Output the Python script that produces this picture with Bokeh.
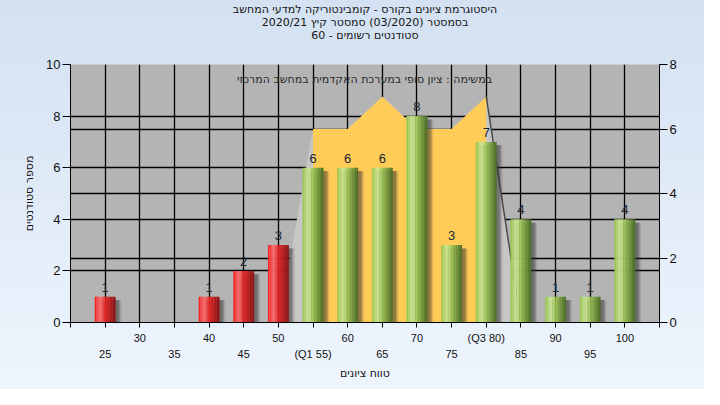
from bokeh.plotting import figure
from bokeh.models import Range1d, LinearAxis, FixedTicker, Grid, Label
from bokeh.core.properties import value
from bokeh.embed import file_html
from bokeh.resources import INLINE

# ---------------- data ----------------
grades = [25, 30, 35, 40, 45, 50, 55, 60, 65, 70, 75, 80, 85, 90, 95, 100]
counts = [1, 0, 0, 1, 2, 3, 6, 6, 6, 8, 3, 7, 4, 1, 1, 4]
tick_labels = ["25", "30", "35", "40", "45", "50", "(Q1 55)", "60", "65", "70",
               "75", "(Q3 80)", "85", "90", "95", "100"]
area_grades = [50, 55, 60, 65, 70, 75, 80, 85]
area_values = [0, 6, 6, 7, 6, 6, 7, 0]
q1_grade = 55
q3_grade = 80
pass_grade = 55
left_ticks = [0, 2, 4, 6, 8, 10]
right_ticks = [0, 2, 4, 6, 8]
title_lines = [
    "היסטוגרמת ציונים בקורס - קומבינטוריקה למדעי המחשב",
    "בסמסטר (03/2020) סמסטר קיץ 2020/21",
    "סטודנטים רשומים - 60",
]
note_text = "במשימה : ציון סופי במערכת האקדמית במחשב המרכזי"
y_title = "מספר סטודנטים"
x_title = "טווח ציונים"

FONT = "Liberation Sans"
HFONT = "DejaVu Sans"

# --------------- helpers ---------------
def hex2rgb(h):
    h = h.lstrip("#")
    return tuple(int(h[i:i + 2], 16) for i in (0, 2, 4))

def profile(stops, t):
    for (t0, c0), (t1, c1) in zip(stops[:-1], stops[1:]):
        if t0 <= t <= t1:
            a = (t - t0) / (t1 - t0) if t1 > t0 else 0
            r0, g0, b0 = hex2rgb(c0)
            r1, g1, b1 = hex2rgb(c1)
            return "#%02x%02x%02x" % (round(r0 + (r1 - r0) * a),
                                      round(g0 + (g1 - g0) * a),
                                      round(b0 + (b1 - b0) * a))
    return stops[-1][1]

green_stops = [(0.0, "#93c24a"), (0.28, "#cfe99c"), (0.5, "#9fc65a"), (1.0, "#4a6b24")]
red_stops = [(0.0, "#f01c1c"), (0.28, "#ff7272"), (0.5, "#e82626"), (1.0, "#8a1414")]

idx = list(range(len(grades)))
gi = {g: i for i, g in enumerate(grades)}

# --------------- figure ----------------
p = figure(width=704, height=389, x_range=Range1d(-1, 16), y_range=Range1d(0, 10),
           x_axis_type=None, output_backend="svg", toolbar_location=None,
           min_border_left=70, min_border_right=45, min_border_top=64, min_border_bottom=67)
p.extra_y_ranges = {"right": Range1d(0, 8)}
p.background_fill_color = "#b4b4b4"
p.border_fill_color = None
p.outline_line_color = None
p.styles = {"background-image": "linear-gradient(to bottom, #d3e1f2 0%, #eef5fd 100%)"}
p.title.text = ""
p.title.standoff = 0

# title lines as labels in the top panel (each stacks outward from the frame)
for line in reversed(title_lines):
    p.add_layout(Label(x=294.5, y=29, x_units="screen", y_units="screen",
                       text=line, text_align="center", text_baseline="middle",
                       text_font=HFONT, text_font_size="11px", text_color="#151515"),
                 "above")

# left axis
ya = p.yaxis[0]
ya.ticker = FixedTicker(ticks=left_ticks)
ya.major_tick_out = 8
ya.major_tick_in = 0
ya.minor_tick_out = 0
ya.minor_tick_in = 0
ya.axis_line_color = "black"
ya.major_tick_line_color = "black"
ya.major_label_text_font = FONT
ya.major_label_text_font_size = "13px"
ya.major_label_text_color = "#111111"
ya.major_label_standoff = 2
ya.axis_label = y_title
ya.axis_label_text_font = HFONT
ya.axis_label_text_font_size = "11px"
ya.axis_label_text_font_style = "normal"
ya.axis_label_text_color = "#111111"
ya.axis_label_standoff = 7

# right axis
ra = LinearAxis(y_range_name="right", ticker=FixedTicker(ticks=right_ticks))
ra.major_tick_out = 8
ra.major_tick_in = 0
ra.minor_tick_out = 0
ra.minor_tick_in = 0
ra.axis_line_color = "black"
ra.major_label_text_font = FONT
ra.major_label_text_font_size = "13px"
ra.major_label_text_color = "#111111"
ra.major_label_standoff = 2
p.add_layout(ra, "right")

# bottom axis 1 (odd categories)
xa1 = LinearAxis(ticker=FixedTicker(ticks=list(range(-1, 17))))
xa1.major_label_overrides = {i: (tick_labels[i] if (0 <= i < len(grades) and i % 2 == 1) else "")
                             for i in range(-1, 17)}
xa1.major_tick_out = 5
xa1.major_tick_in = 0
xa1.minor_tick_out = 0
xa1.minor_tick_in = 0
xa1.axis_line_color = "black"
xa1.major_label_text_font = FONT
xa1.major_label_text_font_size = "11px"
xa1.major_label_text_color = "#111111"
xa1.major_label_standoff = 4
p.add_layout(xa1, "below")

# bottom axis 2 (even categories) + title
xa2 = LinearAxis(ticker=FixedTicker(ticks=[i for i in idx if i % 2 == 0]))
xa2.major_label_overrides = {i: tick_labels[i] for i in idx if i % 2 == 0}
xa2.major_tick_out = 0
xa2.major_tick_in = 0
xa2.minor_tick_out = 0
xa2.minor_tick_in = 0
xa2.axis_line_color = None
xa2.major_label_text_font = FONT
xa2.major_label_text_font_size = "11px"
xa2.major_label_text_color = "#111111"
xa2.major_label_standoff = 1
xa2.axis_label = x_title
xa2.axis_label_text_font = HFONT
xa2.axis_label_text_font_size = "11px"
xa2.axis_label_text_font_style = "normal"
xa2.axis_label_text_color = "#111111"
xa2.axis_label_standoff = 4
p.add_layout(xa2, "below")

# grids
p.ygrid[0].ticker = FixedTicker(ticks=[t for t in left_ticks if 0 < t < 10])
p.ygrid[0].grid_line_color = "black"
p.ygrid[0].grid_line_width = 1.5
rg = Grid(dimension=1, ticker=FixedTicker(ticks=[t for t in right_ticks if 0 < t < 8]),
          y_range_name="right", grid_line_color="black", grid_line_width=1.5)
p.add_layout(rg)
xg = Grid(dimension=0, ticker=FixedTicker(ticks=idx), grid_line_color="black", grid_line_width=1.3)
p.add_layout(xg)

# background areas (right axis)
ax = [gi[g] for g in area_grades]
p.varea(x=ax, y1=[0] * len(ax), y2=area_values, y_range_name="right",
        fill_color="#c6c6c6")
yx = [gi[g] for g in area_grades if q1_grade <= g <= q3_grade]
yv = [v for g, v in zip(area_grades, area_values) if q1_grade <= g <= q3_grade]
p.varea(x=yx, y1=[0] * len(yx), y2=yv, y_range_name="right", fill_color="#ffcc58")
p.line(x=ax[-2:], y=area_values[-2:], y_range_name="right",
       line_color="#4a4a4a", line_width=1.5)

# bars
bar_idx = [i for i in idx if counts[i] > 0]
bar_top = [counts[i] for i in bar_idx]
W = 0.6
for off, alpha in [(0.09, 0.30), (0.13, 0.22), (0.17, 0.14)]:
    p.vbar(x=[i + off for i in bar_idx], width=W, bottom=0,
           top=[t - 0.13 for t in bar_top], fill_color="#303030",
           fill_alpha=alpha, line_color=None)
N = 14
for k in range(N):
    t = (k + 0.5) / N
    off = -W / 2 + (k + 0.5) * W / N
    cols = [profile(red_stops if grades[i] < pass_grade else green_stops, t) for i in bar_idx]
    p.vbar(x=[i + off for i in bar_idx], width=W / N * 1.08, bottom=0, top=bar_top,
           fill_color=cols, line_color=None)

# value labels
p.text(x=bar_idx, y=bar_top, text=[str(c) for c in bar_top], text_align="center",
       text_baseline="bottom", y_offset=-5, text_font=value(FONT),
       text_font_size="13px", text_color="#1b2535")

# note inside plot
p.add_layout(Label(x=294, y=243, x_units="screen", y_units="screen", text=note_text,
                   text_align="center", text_baseline="middle", text_font=HFONT,
                   text_font_size="11px", text_color="#2a2a2a"))

open("out.html", "w").write(file_html(p, INLINE))
